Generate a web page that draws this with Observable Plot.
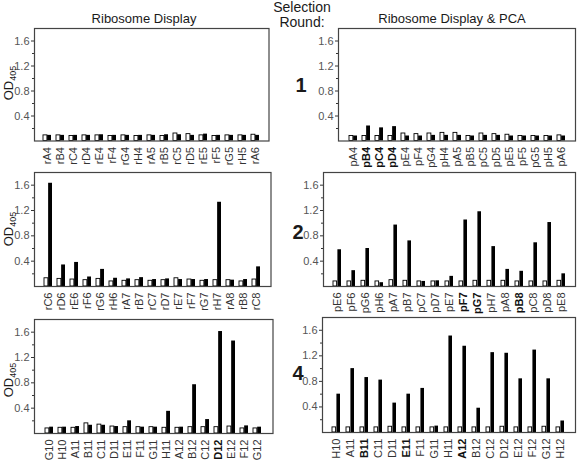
<!DOCTYPE html>
<html>
<head>
<meta charset="utf-8">
<script src="https://cdn.jsdelivr.net/npm/d3@7"></script>
<script src="https://cdn.jsdelivr.net/npm/@observablehq/plot@0.6"></script>
<style>
  body { margin: 0; background: #fff; font-family: "Liberation Sans", Arial, sans-serif; }
  #fig { position: relative; width: 579px; height: 460px; overflow: hidden; background: #fff; }
  .abs { position: absolute; white-space: nowrap; color: #1a1a1a; line-height: 1; }
  .title { font-size: 13px; transform: translate(-50%, 0); }
  .round { font-size: 20px; font-weight: bold; transform: translate(-50%, -50%); }
  .sel { font-size: 14px; transform: translate(-50%, 0); }
  .od { font-size: 13px; transform: translate(-50%, -50%) rotate(-90deg); }
  .od sub { font-size: 9px; vertical-align: -3px; }
</style>
</head>
<body>
<div id="fig"></div>
<script>
// Round 1 — ribosome display
const r1Clones = ["rA4","rB4","rC4","rD4","rE4","rF4","rG4","rH4","rA5","rB5","rC5","rD5","rE5","rF5","rG5","rH5","rA6"];
const r1Ctrl   = [0.09,0.09,0.08,0.09,0.09,0.08,0.09,0.08,0.09,0.08,0.12,0.11,0.09,0.08,0.09,0.09,0.10];
const r1Signal = [0.09,0.09,0.09,0.09,0.10,0.09,0.09,0.09,0.09,0.10,0.10,0.09,0.11,0.09,0.09,0.09,0.09];

// Round 1 — ribosome display & PCA
const p1Clones = ["pA4","pB4","pC4","pD4","pE4","pF4","pG4","pH4","pA5","pB5","pC5","pD5","pE5","pF5","pG5","pH5","pA6"];
const p1Ctrl   = [0.08,0.08,0.08,0.08,0.12,0.11,0.12,0.13,0.13,0.08,0.12,0.11,0.10,0.08,0.08,0.08,0.09];
const p1Signal = [0.08,0.24,0.21,0.23,0.08,0.08,0.09,0.09,0.09,0.08,0.09,0.09,0.08,0.08,0.08,0.08,0.08];
const p1Bold   = ["pB4","pC4","pD4"];

// Round 2 — ribosome display
const r2Clones = ["rC6","rD6","rE6","rF6","rG6","rH6","rA7","rB7","rC7","rD7","rE7","rF7","rG7","rH7","rA8","rB8","rC8"];
const r2Ctrl   = [0.13,0.12,0.11,0.10,0.12,0.08,0.09,0.10,0.09,0.10,0.13,0.11,0.09,0.10,0.10,0.08,0.11];
const r2Signal = [1.63,0.34,0.38,0.15,0.27,0.13,0.12,0.14,0.11,0.12,0.11,0.11,0.11,1.33,0.10,0.11,0.31];

// Round 2 — ribosome display & PCA
const p2Clones = ["pE6","pF6","pG6","pH6","pA7","pB7","pC7","pD7","pE7","pF7","pG7","pH7","pA8","pB8","pC8","pD8","pE8"];
const p2Ctrl   = [0.08,0.08,0.09,0.08,0.10,0.09,0.08,0.08,0.08,0.08,0.09,0.09,0.09,0.08,0.08,0.08,0.09];
const p2Signal = [0.58,0.25,0.60,0.06,0.97,0.72,0.08,0.09,0.16,1.05,1.18,0.63,0.27,0.24,0.69,1.01,0.20];
const p2Bold   = ["pF7","pG7","pB8"];

// Round 4 — ribosome display
const r4Clones = ["G10","H10","A11","B11","C11","D11","E11","F11","G11","H11","A12","B12","C12","D12","E12","F12","G12"];
const r4Ctrl   = [0.08,0.09,0.09,0.16,0.14,0.11,0.10,0.10,0.10,0.09,0.09,0.10,0.10,0.10,0.11,0.08,0.08];
const r4Signal = [0.10,0.10,0.11,0.13,0.13,0.11,0.20,0.10,0.10,0.35,0.10,0.77,0.22,1.61,1.46,0.12,0.10];
const r4Bold   = ["D12"];

// Round 4 — ribosome display & PCA
const p4Clones = ["H10","A11","B11","C11","D11","E11","F11","G11","H11","A12","B12","C12","D12","E12","F12","G12","H12"];
const p4Ctrl   = [0.08,0.08,0.08,0.08,0.09,0.08,0.08,0.08,0.08,0.08,0.08,0.08,0.09,0.08,0.08,0.09,0.08];
const p4Signal = [0.60,1.00,0.86,0.82,0.46,0.60,0.69,0.10,1.51,1.35,0.38,1.25,1.24,0.84,1.29,0.84,0.18];
const p4Bold   = ["B11","E11","A12"];

const yMajor = [0.4, 0.8, 1.2, 1.6];
const yMinor = [0.2, 0.6, 1.0, 1.4];

const fig = document.getElementById("fig");
const font = "'Liberation Sans', Arial, sans-serif";

// One bar panel: white control bar and black signal bar side by side per clone.
function panel(clones, ctrl, signal, bold, [x0, x1, y0, y1]) {
  const mL = 34, mR = 2, mT = 2, mB = 40;
  const innerW = x1 - x0, innerH = y1 - y0;
  const pi = 0.4, po = 0.3;
  const step = innerW / (clones.length - pi + 2 * po);
  const half = step * (1 - pi) / 2;
  const rows = clones.map((c, i) => ({clone: c, ctrl: ctrl[i], signal: signal[i]}));
  const plain = clones.filter(c => !bold.includes(c));
  const plot = Plot.plot({
    width: innerW + mL + mR,
    height: innerH + mT + mB,
    marginLeft: mL, marginRight: mR, marginTop: mT, marginBottom: mB,
    style: {background: "transparent", overflow: "visible", maxWidth: "none", fontFamily: font, fontSize: "11px", color: "#333"},
    x: {domain: clones, paddingInner: pi, paddingOuter: po, label: null},
    y: {domain: [0, 1.8], label: null},
    marks: [
      Plot.barY(rows, {x: "clone", y: "ctrl", fill: "white", stroke: "black", strokeWidth: 0.9, insetRight: half}),
      Plot.barY(rows, {x: "clone", y: "signal", fill: "black", insetLeft: half}),
      Plot.axisY(yMinor, {tickSize: 2, tickFormat: () => "", label: null}),
      Plot.axisY(yMajor, {tickSize: 3, tickPadding: 2, tickFormat: d => d.toFixed(1), fill: "#555", label: null}),
      Plot.axisX(plain, {tickSize: 0, tickPadding: 6, tickRotate: -90, fill: "#333", label: null}),
      Plot.axisX(bold, {tickSize: 0, tickPadding: 6, tickRotate: -90, fill: "#111", fontWeight: "bold", label: null}),
      Plot.frame({stroke: "#444", strokeWidth: 1.2})
    ]
  });
  plot.style.position = "absolute";
  plot.style.left = (x0 - mL) + "px";
  plot.style.top = (y0 - mT) + "px";
  fig.appendChild(plot);
}

panel(r1Clones, r1Ctrl, r1Signal, [],     [33.5, 268, 28, 140.5]);
panel(p1Clones, p1Ctrl, p1Signal, p1Bold, [338, 575, 28, 140.5]);
panel(r2Clones, r2Ctrl, r2Signal, [],     [33.5, 270, 172, 286]);
panel(p2Clones, p2Ctrl, p2Signal, p2Bold, [323, 575, 172, 286]);
panel(r4Clones, r4Ctrl, r4Signal, r4Bold, [33.5, 272, 319, 433]);
panel(p4Clones, p4Ctrl, p4Signal, p4Bold, [322, 575, 317, 432]);

// Headings, round numbers and y-axis titles
function addText(cls, html, left, top) {
  const d = document.createElement("div");
  d.className = "abs " + cls;
  d.innerHTML = html;
  d.style.left = left + "px";
  d.style.top = top + "px";
  fig.appendChild(d);
}
addText("title", "Ribosome Display", 144, 12);
addText("title", "Ribosome Display &amp; PCA", 452, 12);
addText("sel", "Selection", 302, 0);
addText("sel", "Round:", 302, 15);
addText("round", "1", 301, 85);
addText("round", "2", 298, 232);
addText("round", "4", 298, 373);
addText("od", "OD<sub>405</sub>", 10, 83);
addText("od", "OD<sub>405</sub>", 10, 229);
addText("od", "OD<sub>405</sub>", 10, 380);
</script>
</body>
</html>
